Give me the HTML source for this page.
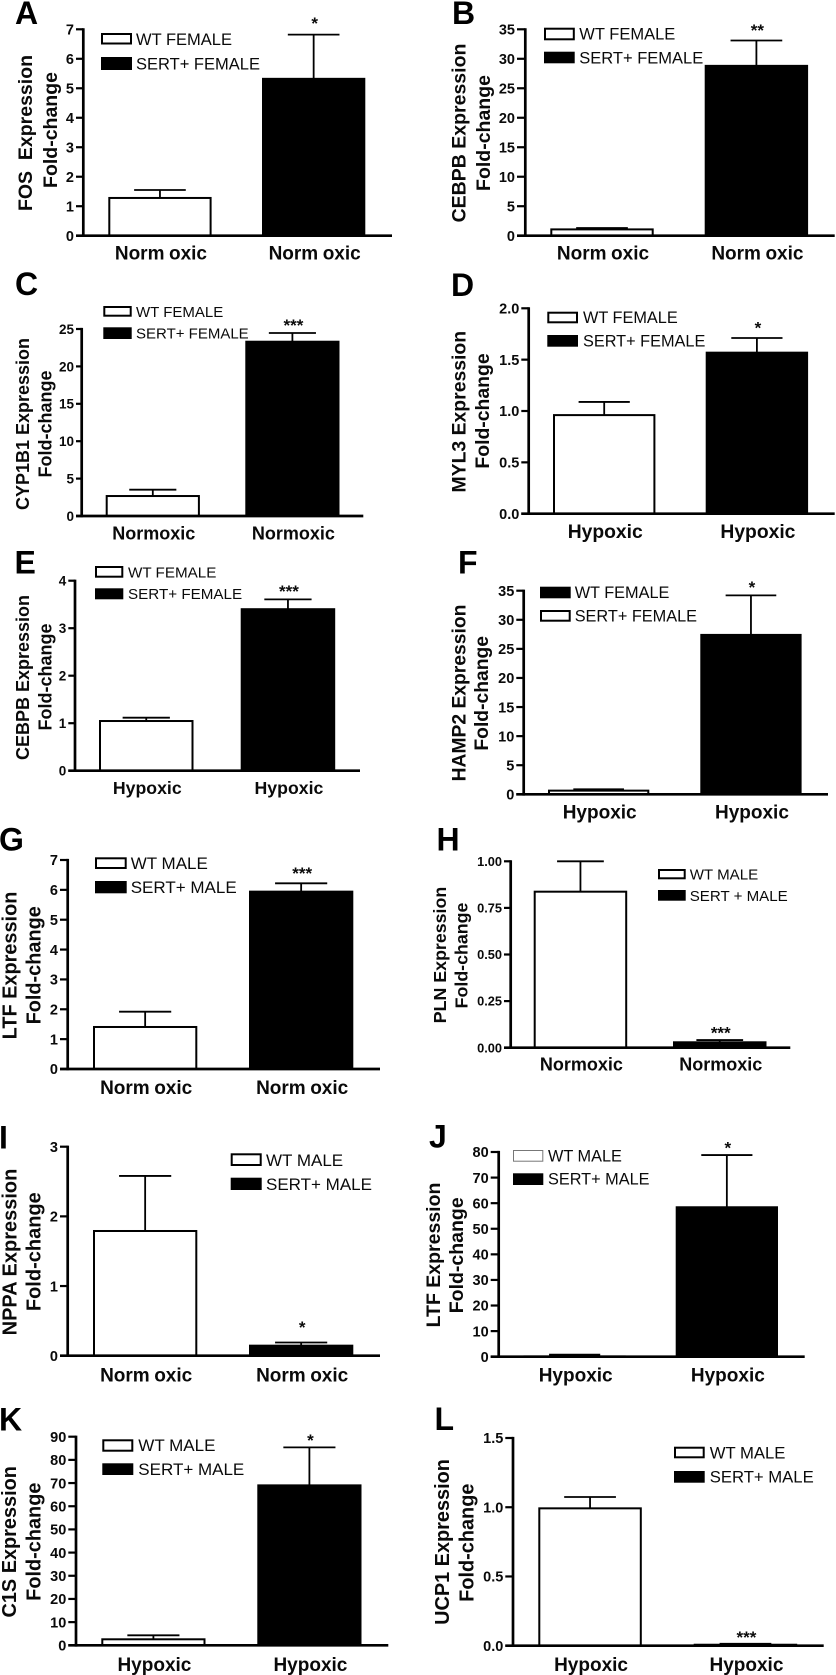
<!DOCTYPE html>
<html lang="en">
<head>
<meta charset="utf-8">
<title>Fold-change expression panels A–L</title>
<style>
html,body{margin:0;padding:0;background:#fff}
svg{display:block}
text{font-family:"Liberation Sans",Arial,sans-serif;fill:#0a0a0a}
.letter{font-weight:700;font-size:32px;fill:#000}
.ytitle{font-weight:700;text-anchor:middle}
.ytick{font-weight:700;text-anchor:end}
.cat{font-weight:700;text-anchor:middle}
.star{font-weight:700;text-anchor:middle;font-size:17px}
</style>
</head>
<body>
<svg id="figure" xmlns="http://www.w3.org/2000/svg" width="836" height="1675" viewBox="0 0 836 1675">
<rect width="836" height="1675" fill="#fff"/>

<g id="panel-a">
<text class="letter" x="15" y="24">A</text>
<text class="ytitle" font-size="19.5" transform="translate(31.8,133) rotate(-90)">FOS&#160; Expression</text>
<text class="ytitle" font-size="19.5" transform="translate(56.8,130) rotate(-90)">Fold-change</text>
<rect x="102" y="34" width="29" height="9.5" fill="#fff" stroke="#000" stroke-width="2"/>
<rect x="101" y="57" width="31" height="13" fill="#000"/>
<text x="136" y="44.8" font-size="16.5">WT FEMALE</text>
<text x="136" y="69.3" font-size="16.5">SERT+ FEMALE</text>
</g>

<g id="panel-b">
<text class="letter" x="452" y="24">B</text>
<text class="ytitle" font-size="19.5" transform="translate(465.5,133) rotate(-90)">CEBPB Expression</text>
<text class="ytitle" font-size="19.5" transform="translate(489.8,133) rotate(-90)">Fold-change</text>
<rect x="545" y="28.7" width="28.8" height="10.6" fill="#fff" stroke="#000" stroke-width="2"/>
<rect x="544" y="51.7" width="30.7" height="11.6" fill="#000"/>
<text x="579.3" y="39.3" font-size="16.5">WT FEMALE</text>
<text x="579.3" y="63.3" font-size="16.5">SERT+ FEMALE</text>
</g>

<g id="panel-c">
<text class="letter" x="15" y="295">C</text>
<text class="ytitle" font-size="18" transform="translate(29,424) rotate(-90)">CYP1B1 Expression</text>
<text class="ytitle" font-size="18" transform="translate(51.3,424) rotate(-90)">Fold-change</text>
<rect x="104.3" y="307" width="26.4" height="8.7" fill="#fff" stroke="#000" stroke-width="2"/>
<rect x="103.3" y="327.3" width="28.4" height="11.7" fill="#000"/>
<text x="136" y="316.8" font-size="15">WT FEMALE</text>
<text x="136" y="338.3" font-size="15">SERT+ FEMALE</text>
</g>

<g id="panel-d">
<text class="letter" x="451" y="296">D</text>
<text class="ytitle" font-size="19.4" transform="translate(465.5,411.7) rotate(-90)">MYL3 Expression</text>
<text class="ytitle" font-size="19.4" transform="translate(488.8,411) rotate(-90)">Fold-change</text>
<rect x="548.3" y="312.7" width="28.7" height="9.6" fill="#fff" stroke="#000" stroke-width="2"/>
<rect x="547.3" y="335" width="30.7" height="11.7" fill="#000"/>
<text x="583" y="323.2" font-size="16.3">WT FEMALE</text>
<text x="583" y="346.7" font-size="16.3">SERT+ FEMALE</text>
</g>

<g id="panel-e">
<text class="letter" x="14.5" y="573.3">E</text>
<text class="ytitle" font-size="18" transform="translate(29,677.5) rotate(-90)">CEBPB Expression</text>
<text class="ytitle" font-size="18" transform="translate(51.3,677) rotate(-90)">Fold-change</text>
<rect x="96" y="567" width="26.3" height="9.7" fill="#fff" stroke="#000" stroke-width="2"/>
<rect x="95" y="588.3" width="28.3" height="11" fill="#000"/>
<text x="128" y="577.3" font-size="15.2">WT FEMALE</text>
<text x="128" y="598.8" font-size="15.2">SERT+ FEMALE</text>
</g>

<g id="panel-f">
<text class="letter" x="458" y="573.3">F</text>
<text class="ytitle" font-size="19.3" transform="translate(465.4,693) rotate(-90)">HAMP2 Expression</text>
<text class="ytitle" font-size="19.3" transform="translate(488,693.3) rotate(-90)">Fold-change</text>
<rect x="540" y="586.7" width="30.7" height="11.6" fill="#000"/>
<rect x="541" y="611" width="28.7" height="9.7" fill="#fff" stroke="#000" stroke-width="2"/>
<text x="574.7" y="598.2" font-size="16.3">WT FEMALE</text>
<text x="574.7" y="621.7" font-size="16.3">SERT+ FEMALE</text>
</g>

<g id="panel-g">
<text class="letter" x="-1" y="850.7">G</text>
<text class="ytitle" font-size="19.9" transform="translate(16.3,965.5) rotate(-90)">LTF Expression</text>
<text class="ytitle" font-size="19.9" transform="translate(40.3,965.3) rotate(-90)">Fold-change</text>
<rect x="96" y="858.3" width="29.7" height="9.7" fill="#fff" stroke="#000" stroke-width="2"/>
<rect x="95" y="881" width="31.7" height="12.3" fill="#000"/>
<text x="130.7" y="869" font-size="17">WT MALE</text>
<text x="130.7" y="893" font-size="17">SERT+ MALE</text>
</g>

<g id="panel-h">
<text class="letter" x="436.5" y="850.7">H</text>
<text class="ytitle" font-size="17.8" transform="translate(446,955) rotate(-90)">PLN Expression</text>
<text class="ytitle" font-size="17.8" transform="translate(467.5,955.5) rotate(-90)">Fold-change</text>
<rect x="659" y="870" width="25.7" height="8.3" fill="#fff" stroke="#000" stroke-width="2"/>
<rect x="658" y="890" width="27.7" height="10.7" fill="#000"/>
<text x="689.7" y="879.3" font-size="15.1">WT MALE</text>
<text x="689.7" y="900.8" font-size="15.1">SERT + MALE</text>
</g>

<g id="panel-i">
<text class="letter" x="-1" y="1148.3">I</text>
<text class="ytitle" font-size="20" transform="translate(16.3,1252) rotate(-90)">NPPA Expression</text>
<text class="ytitle" font-size="20" transform="translate(40.3,1251.7) rotate(-90)">Fold-change</text>
<rect x="231.7" y="1154.3" width="29" height="10.7" fill="#fff" stroke="#000" stroke-width="2"/>
<rect x="230.7" y="1177.7" width="31" height="12.3" fill="#000"/>
<text x="266" y="1166" font-size="17">WT MALE</text>
<text x="266" y="1190" font-size="17">SERT+ MALE</text>
</g>

<g id="panel-j">
<text class="letter" x="429" y="1147.7">J</text>
<text class="ytitle" font-size="19.5" transform="translate(439.8,1255) rotate(-90)">LTF Expression</text>
<text class="ytitle" font-size="19.5" transform="translate(463.1,1255.3) rotate(-90)">Fold-change</text>
<rect x="513.5" y="1150.5" width="29.3" height="10.7" fill="#fff" stroke="#777" stroke-width="1"/>
<rect x="513" y="1173.3" width="30.3" height="11.7" fill="#000"/>
<text x="548" y="1161.7" font-size="16.3">WT MALE</text>
<text x="548" y="1184.7" font-size="16.3">SERT+ MALE</text>
</g>

<g id="panel-k">
<text class="letter" x="-1" y="1430.7">K</text>
<text class="ytitle" font-size="19.9" transform="translate(16,1541.8) rotate(-90)">C1S Expression</text>
<text class="ytitle" font-size="19.9" transform="translate(40.3,1541.7) rotate(-90)">Fold-change</text>
<rect x="103.3" y="1440.3" width="29" height="10.4" fill="#fff" stroke="#000" stroke-width="2"/>
<rect x="102.3" y="1463.3" width="31" height="11.7" fill="#000"/>
<text x="138.3" y="1451" font-size="17">WT MALE</text>
<text x="138.3" y="1475" font-size="17">SERT+ MALE</text>
</g>

<g id="panel-l">
<text class="letter" x="434.5" y="1430">L</text>
<text class="ytitle" font-size="19.9" transform="translate(449,1542) rotate(-90)">UCP1 Expression</text>
<text class="ytitle" font-size="19.9" transform="translate(473.3,1542.7) rotate(-90)">Fold-change</text>
<rect x="675" y="1447.7" width="28.7" height="9.6" fill="#fff" stroke="#000" stroke-width="2"/>
<rect x="674" y="1471" width="30.7" height="11.7" fill="#000"/>
<text x="709.7" y="1458.3" font-size="16.7">WT MALE</text>
<text x="709.7" y="1482.3" font-size="16.7">SERT+ MALE</text>
</g>
</svg>

<script>
// Data, one entry per panel A to L
const panelIds = ['a','b','c','d','e','f','g','h','i','j','k','l'];
const yMaxValues = [7, 35, 25, 2, 4, 35, 7, 1, 3, 80, 90, 1.5];
const wtMeans = [1.28, 1.07, 2.67, 0.96, 1.046, 0.63, 1.407, 0.837, 1.79, 0.1, 2.59, 0.992];
const wtUppers = [1.55, 1.3, 3.52, 1.088, 1.116, 0.86, 1.92, 1.0, 2.58, 0.78, 4.31, 1.074];
const sertMeans = [5.32, 28.8, 23.3, 1.568, 3.40, 27.4, 5.94, 0.029, 0.144, 58.4, 69, 0.007];
const sertUppers = [6.82, 33.1, 24.47, 1.711, 3.607, 34.2, 6.22, 0.041, 0.19, 78.8, 85.4, 0.014];
const significance = ['*','**','***','*','***','*','***','***','*','*','*','***'];
const conditions = ['Normoxic','Normoxic','Normoxic','Hypoxic','Hypoxic','Hypoxic','Normoxic','Normoxic','Normoxic','Hypoxic','Hypoxic','Hypoxic'];
const yTickLabels = [
  ['0','1','2','3','4','5','6','7'],
  ['0','5','10','15','20','25','30','35'],
  ['0','5','10','15','20','25'],
  ['0.0','0.5','1.0','1.5','2.0'],
  ['0','1','2','3','4'],
  ['0','5','10','15','20','25','30','35'],
  ['0','1','2','3','4','5','6','7'],
  ['0.00','0.25','0.50','0.75','1.00'],
  ['0','1','2','3'],
  ['0','10','20','30','40','50','60','70','80'],
  ['0','10','20','30','40','50','60','70','80','90'],
  ['0.0','0.5','1.0','1.5']
];

// Panel layout (plot frames and type sizes), separate from the data
const panelFrames = [
  {left:83.3, base:235.7, top:29.3, right:392, tick:76, bar0:108.3, bar1:262, barW:103.3, catY:253, catFs:19, tickFs:14.5, starGap:14, catGap:4.5},
  {left:525.3, base:235.7, top:29.3, right:834.7, tick:517, bar0:550.3, bar1:704.7, barW:103.4, catY:253, catFs:19, tickFs:14.5, starGap:13, catGap:4.5},
  {left:81.7, base:516, top:329, right:363.3, tick:76, bar0:105.7, bar1:245.3, barW:94.2, catY:533, catFs:18, tickFs:13.5, starGap:10.3, catGap:0},
  {left:528.7, base:513.7, top:308.3, right:834.7, tick:521.3, bar0:553, bar1:705.7, barW:102.4, catY:531, catFs:19.3, tickFs:14.5, starGap:13, catGap:0},
  {left:75, base:770.7, top:580.7, right:360, tick:68.3, bar0:99, bar1:240.7, barW:94.5, catY:787.7, catFs:17.7, tickFs:13.5, starGap:11, catGap:0},
  {left:523.7, base:794.3, top:590.7, right:828, tick:516.3, bar0:548, bar1:700.3, barW:101.3, catY:811.7, catFs:19, tickFs:14.5, starGap:11, catGap:0},
  {left:67.7, base:1069, top:860, right:380, tick:60, bar0:93, bar1:249, barW:104.3, catY:1087.3, catFs:19, tickFs:14.5, starGap:12.6, catGap:4.5},
  {left:510.7, base:1047.7, top:861.3, right:790.3, tick:504, bar0:533.7, bar1:673, barW:93.5, catY:1064.3, catFs:18, tickFs:12.8, starGap:10, catGap:0},
  {left:67.7, base:1355.7, top:1146.7, right:380, tick:60, bar0:93, bar1:249, barW:104.3, catY:1375, catFs:19, tickFs:14.5, starGap:18, catGap:4.5},
  {left:498.7, base:1356.7, top:1152, right:804.7, tick:490.7, bar0:523.5, bar1:675.7, barW:102.3, catY:1375, catFs:19, tickFs:14.5, starGap:10, catGap:0},
  {left:76, base:1645.3, top:1436.7, right:388.3, tick:68.3, bar0:101.3, bar1:257.3, barW:104.2, catY:1664.3, catFs:19, tickFs:14.5, starGap:10, catGap:0},
  {left:513, base:1645.7, top:1438, right:823.7, tick:505.3, bar0:538.3, bar1:693.7, barW:103.5, catY:1664.3, catFs:19, tickFs:14.5, starGap:9.5, catGap:0}
];

const NS = 'http://www.w3.org/2000/svg';

function line(parent, x1, y1, x2, y2, width) {
  const el = document.createElementNS(NS, 'line');
  el.setAttribute('x1', x1);
  el.setAttribute('y1', y1);
  el.setAttribute('x2', x2);
  el.setAttribute('y2', y2);
  el.setAttribute('stroke', '#000');
  el.setAttribute('stroke-width', width);
  parent.appendChild(el);
  return el;
}

function drawPanel(i) {
  const frame = panelFrames[i];
  const root = document.getElementById('panel-' + panelIds[i]);
  const yScale = function (v) {
    return frame.base - (v / yMaxValues[i]) * (frame.base - frame.top);
  };

  const bars = [
    {left: frame.bar0, mean: wtMeans[i], upper: wtUppers[i], fill: '#fff', key: 'wt'},
    {left: frame.bar1, mean: sertMeans[i], upper: sertUppers[i], fill: '#000', key: 'sert'}
  ];

  bars.forEach(function (b) {
    const cx = b.left + frame.barW / 2;
    const capHalf = frame.barW * 0.25;
    const topY = yScale(b.mean);
    const upY = yScale(b.upper);

    const stem = line(root, cx, topY, cx, upY, 1.8);
    
    

    const cap = line(root, cx - capHalf, upY, cx + capHalf, upY, 1.8);
    
    

    const rect = document.createElementNS(NS, 'rect');
    rect.setAttribute('x', b.left + 1);
    rect.setAttribute('y', topY);
    rect.setAttribute('width', frame.barW - 2);
    rect.setAttribute('height', Math.max(0, frame.base - topY));
    rect.setAttribute('fill', b.fill);
    rect.setAttribute('stroke', '#000');
    rect.setAttribute('stroke-width', 2);
    
    
    root.appendChild(rect);

    const cat = document.createElementNS(NS, 'text');
    cat.setAttribute('class', 'cat');
    cat.setAttribute('x', cx + 1);
    cat.setAttribute('y', frame.catY + frame.catFs * 0.35);
    cat.setAttribute('font-size', frame.catFs);
    
    
    const word = conditions[i];
    if (frame.catGap > 0) {
      const head = document.createElementNS(NS, 'tspan');
      head.textContent = word.slice(0, 4);
      const tail = document.createElementNS(NS, 'tspan');
      tail.setAttribute('dx', frame.catGap);
      tail.textContent = word.slice(4);
      cat.appendChild(head);
      cat.appendChild(tail);
    } else {
      cat.textContent = word;
    }
    root.appendChild(cat);
  });

  const sertCx = frame.bar1 + frame.barW / 2;
  const star = document.createElementNS(NS, 'text');
  star.setAttribute('class', 'star');
  star.setAttribute('x', sertCx + 1);
  star.setAttribute('y', yScale(sertUppers[i]) - frame.starGap + 8.5);
  
  
  star.textContent = significance[i];
  root.appendChild(star);

  yTickLabels[i].forEach(function (label) {
    const y = yScale(parseFloat(label));

    const tick = line(root, frame.tick, y, frame.left, y, 2.2);
    
    

    const text = document.createElementNS(NS, 'text');
    text.setAttribute('class', 'ytick');
    text.setAttribute('x', frame.tick - 2);
    text.setAttribute('y', y + frame.tickFs * 0.36);
    text.setAttribute('font-size', frame.tickFs);
    
    
    text.textContent = label;
    root.appendChild(text);
  });

  const yAxis = line(root, frame.left, frame.top - 1.1, frame.left, frame.base + 1.3, 2.7);
  
  

  const xAxis = line(root, frame.tick, frame.base, frame.right, frame.base, 2.7);
  
  
}

panelIds.forEach(function (id, i) {
  drawPanel(i);
});
</script>
</body>
</html>
